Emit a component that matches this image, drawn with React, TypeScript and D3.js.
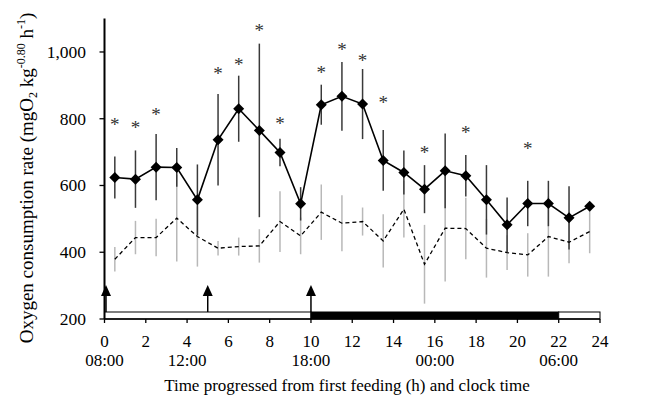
import React from "react";
import * as d3 from "d3";

const hours = [0.5, 1.5, 2.5, 3.5, 4.5, 5.5, 6.5, 7.5, 8.5, 9.5, 10.5, 11.5, 12.5, 13.5, 14.5, 15.5, 16.5, 17.5, 18.5, 19.5, 20.5, 21.5, 22.5, 23.5];
const fedMean = [624, 619, 655, 654, 557, 737, 830, 765, 699, 545, 842, 867, 844, 675, 639, 589, 644, 629, 557, 482, 546, 546, 503, 538];
const fedSD = [63, 86, 99, 58, 106, 137, 99, 260, 41, 50, 60, 103, 105, 91, 66, 72, 112, 62, 104, 82, 68, 68, 95, 0];
const ctrlMean = [379, 444, 444, 502, 447, 412, 417, 419, 492, 449, 520, 487, 492, 434, 529, 364, 472, 471, 412, 399, 392, 447, 430, 462];
const ctrlSD = [37, 50, 56, 130, 90, 22, 27, 50, 91, 55, 83, 84, 42, 80, 85, 118, 160, 92, 88, 52, 65, 120, 63, 65];
const sigHours = [0.5, 1.5, 2.5, 5.5, 6.5, 7.5, 8.5, 10.5, 11.5, 12.5, 13.5, 15.5, 17.5, 20.5];
const sigLevel = [793, 784, 821, 946, 971, 1073, 796, 949, 1016, 983, 859, 709, 769, 719];
const feedTimes = [0, 5, 10];
const periodStart = [0, 10, 22];
const periodEnd = [10, 22, 24];
const periodDark = [false, true, false];
const xTicks = [0, 2, 4, 6, 8, 10, 12, 14, 16, 18, 20, 22, 24];
const clockTicks = [0, 4, 10, 16, 22];
const clockLabels = ["08:00", "12:00", "18:00", "00:00", "06:00"];
const yTicks = [200, 400, 600, 800, 1000];

const FONT = "'Liberation Serif', 'Times New Roman', Times, serif";

export default function App() {
  const W = 646, H = 405;
  const x = d3.scaleLinear().domain([0, 24]).range([104.5, 600]);
  const y = d3.scaleLinear().domain([200, 1100]).range([319, 18.6]);
  const fmt = d3.format(",");

  const fedLine = d3.line<number>().x((_, i) => x(hours[i])).y((d) => y(d))(fedMean) || "";
  const ctrlLine = d3.line<number>().x((_, i) => x(hours[i])).y((d) => y(d))(ctrlMean) || "";
  const y0 = y(200);
  const dm = 5.5;

  return (
    <svg width={W} height={H} style={{ position: "absolute", left: 0, top: 0, background: "#fff" }} fontFamily={FONT}>
      {hours.map((h, i) => (
        <line key={"ce" + i} x1={x(h)} x2={x(h)} y1={y(ctrlMean[i] - ctrlSD[i])} y2={y(ctrlMean[i] + ctrlSD[i])} stroke="#b8b8b8" strokeWidth={1.5} />
      ))}
      {hours.map((h, i) => fedSD[i] > 0 ? (
        <line key={"fe" + i} x1={x(h)} x2={x(h)} y1={y(fedMean[i] - fedSD[i])} y2={y(fedMean[i] + fedSD[i])} stroke="#3a3a3a" strokeWidth={1.5} />
      ) : null)}
      <path d={ctrlLine} fill="none" stroke="#000" strokeWidth={1.3} strokeDasharray="4,3" />
      <path d={fedLine} fill="none" stroke="#000" strokeWidth={1.6} />
      {hours.map((h, i) => {
        const cx = x(h), cy = y(fedMean[i]);
        return <path key={"d" + i} d={`M${cx},${cy - dm}L${cx + dm},${cy}L${cx},${cy + dm}L${cx - dm},${cy}Z`} fill="#000" />;
      })}
      {sigHours.map((h, i) => (
        <text key={"s" + i} x={x(h)} y={y(sigLevel[i]) + 9.5} textAnchor="middle" fontSize={19} fill="#333">*</text>
      ))}
      {periodStart.map((s, i) => (
        <rect key={"p" + i} x={x(s)} y={y0 - 7} width={x(periodEnd[i]) - x(s)} height={7} fill={periodDark[i] ? "#000" : "#fff"} stroke="#000" strokeWidth={1} />
      ))}
      {feedTimes.map((t, i) => {
        const ax = x(t) + (i === 0 ? 1.5 : 0);
        const top = y0 - 34, base = y0 - 7;
        return (
          <g key={"a" + i}>
            <line x1={ax} x2={ax} y1={top + 10} y2={base} stroke="#000" strokeWidth={1.5} />
            <path d={`M${ax},${top}L${ax + 5},${top + 11}L${ax - 5},${top + 11}Z`} fill="#000" />
          </g>
        );
      })}
      <line x1={x(0)} x2={x(24)} y1={y0} y2={y0} stroke="#000" strokeWidth={1.3} />
      {xTicks.map((t) => (
        <g key={"xt" + t}>
          <line x1={x(t)} x2={x(t)} y1={y0} y2={y0 + 4} stroke="#000" strokeWidth={1.3} />
          <text x={x(t)} y={347} textAnchor="middle" fontSize={17} fill="#000">{t}</text>
        </g>
      ))}
      {clockTicks.map((t, i) => (
        <text key={"ct" + i} x={x(t)} y={366} textAnchor="middle" fontSize={17} fill="#000">{clockLabels[i]}</text>
      ))}
      <text x={347} y={391} textAnchor="middle" fontSize={17} fill="#000">Time progressed from first feeding (h) and clock time</text>
      <line x1={x(0)} x2={x(0)} y1={y(1100)} y2={y0} stroke="#000" strokeWidth={2} />
      {yTicks.map((t) => (
        <g key={"yt" + t}>
          <line x1={x(0) - 5} x2={x(0)} y1={y(t)} y2={y(t)} stroke="#000" strokeWidth={1.3} />
          <text x={86} y={y(t) + 6} textAnchor="end" fontSize={17.5} fill="#000">{fmt(t)}</text>
        </g>
      ))}
      <text transform="translate(33,178) rotate(-90)" textAnchor="middle" fontSize={19} fill="#000">
        Oxygen consumption rate (mgO<tspan fontSize={12} dy={4}>2</tspan>
        <tspan dy={-4}> kg</tspan><tspan fontSize={12} dy={-8}>-0.80</tspan>
        <tspan dy={8}> h</tspan><tspan fontSize={12} dy={-8}>-1</tspan><tspan dy={8}>)</tspan>
      </text>
    </svg>
  );
}
